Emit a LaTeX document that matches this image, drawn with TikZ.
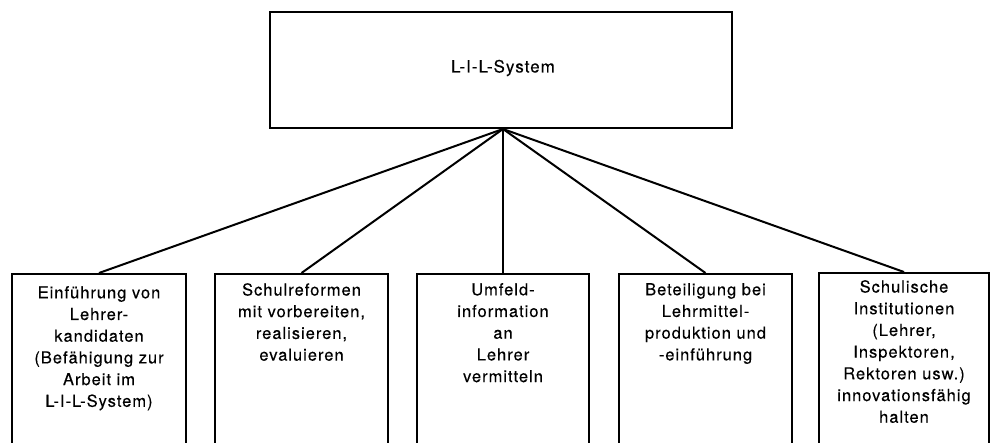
\documentclass[tikz,border=0pt]{standalone}
\usepackage{fontspec}
\setmainfont{TeX Gyre Heros}[LetterSpace=6,FakeBold=0.3]
\begin{document}
\begin{tikzpicture}[x=1pt,y=-1pt,
  lw/.style={line width=2pt},
  topbox/.style={draw, lw, minimum width=462pt, minimum height=116pt, inner sep=0pt},
  lowbox/.style={draw, lw, anchor=north, minimum width=#1, minimum height=200pt, inner sep=0pt},
  boxtext/.style={anchor=north, align=center, inner sep=0pt, font=\fontsize{16.5}{21.7}\selectfont},
  link/.style={lw}]
\clip (0,0) rectangle (991,443);
\node[topbox] (top) at (501,70) {};
\node[font=\fontsize{17}{21.7}\selectfont, inner sep=0pt] (toptext) at (503,68) {L-I-L-System};

\node[lowbox=174pt] (b1) at (99,273) {};
\node[lowbox=173pt] (b2) at (301.5,273) {};
\node[lowbox=172pt] (b3) at (503,273) {};
\node[lowbox=173pt] (b4) at (705.5,273) {};
\node[lowbox=170pt] (b5) at (904,272) {};

\node[boxtext] (t1) at ([yshift=-13pt]b1.north) {Einführung von\\Lehrer-\\kandidaten\\(Befähigung zur\\Arbeit im\\L-I-L-System)};
\node[boxtext] (t2) at ([yshift=-10pt]b2.north) {Schulreformen\\mit vorbereiten,\\realisieren,\\evaluieren};
\node[boxtext] (t3) at ([yshift=-10pt]b3.north) {Umfeld-\\information\\an\\Lehrer\\vermitteln};
\node[boxtext] (t4) at ([yshift=-10pt]b4.north) {Beteiligung bei\\Lehrmittel-\\produktion und\\-einführung};
\node[boxtext] (t5) at ([yshift=-8pt]b5.north) {Schulische\\Institutionen\\(Lehrer,\\Inspektoren,\\Rektoren usw.)\\innovationsfähig\\halten};

\coordinate (hub) at (top.south -| b3.north);
\foreach \b in {b1,b2,b3,b4,b5} \draw[link] (hub) -- (\b.north);
\end{tikzpicture}
\end{document}
